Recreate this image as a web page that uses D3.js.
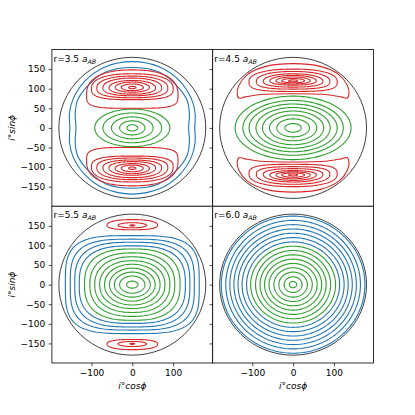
<!DOCTYPE html>
<html><head><meta charset="utf-8">
<script src="https://cdn.jsdelivr.net/npm/d3@7"></script>
<style>body{margin:0;background:#fff}svg{display:block;font-family:"DejaVu Sans",sans-serif}</style>
</head><body>
<script>
// panel values of r (in a_AB)
const radii = ["3.5", "4.5", "5.5", "6.0"];
const xTicks = [-100, 0, 100];
const yTicks = [-150, -100, -50, 0, 50, 100, 150];
const rimRadius = 180;

// centred loops: [halfWidth, halfHeight, power]
// island loops (upper one, mirrored below): [halfWidth, yMid, upHeight, downHeight, upPower, downPower]
// traced loops: points of one quarter (centred) or one half (islands)
const green35 = [[92,48,2],[72,38,2],[51,28,2],[31,18,2],[13,8,2]];
const blue35 = [
	[[0,169],[68,155],[114,122],[145,74],[154,36],[153,0]],
	[[0,154],[64,143],[104,113],[134,71],[140,35],[138,0]]
];
const red35 = [[112,85,63,35,2.4,4],[100,100,38,28,2.4,3],[87,101,31,24,2.3,2.6],[72,102,25,20,2.2,2.4],
	[57,102,19,16,2.1,2.2],[42,103,14,12,2,2],[27,103,9,8,2,2],[9,103,3,3,2,2]];

const green45 = [[142,81,2],[123,70,2],[108,61,2],[91,52,2],[75,43,2],[58,33,2],[40,23,2],[20,11,2]];
const red45Outer = [[0,164],[67,157],[112,136],[133,108],[137,88],[133,76],[118,79],[80,85],[0,87]];
const red45 = [[108,118,32,25,2.3,3.2],[90,119,25,20,2.2,2.8],[73,119,19,15,2.1,2.4],[57,120,14,11,2,2.2],
	[42,120,10,8,2,2],[28,120,6,5,2,2],[11,120,2.5,2.5,2,2]];

const green55 = [[117,91,2.6],[104,81,2.4],[92,71,2.3],[80,61,2.2],[68,52,2.1],[56,42,2],[44,32,2],[31,22,2],[14,9,2]];
const blue55 = [[164,125,3.6],[152,116,3.3],[141,108,3.0],[130,99,2.8]];
const red55 = [[62,152,14,12,2.2,2.5],[35,151,7,6,2,2],[6,151,1.5,1.5,2,2]];

const green60 = [[104,98,2],[92,87,2],[81,76,2],[70,65,2],[59,54,2],[47,43,2],[35,32,2],[22,20,2],[9,8,2]];
const blue60 = [[176,175,2],[165,164,2],[155,153,2],[145,142,2],[135,131,2],[125,120,2],[114,109,2]];

const colors = {green: "#2ca02c", blue: "#1f77b4", red: "#d62728"};

const panels = [
	{r: radii[0], col: 0, row: 0, green: green35, bluePts: blue35, blue: [], red: red35, redPts: []},
	{r: radii[1], col: 1, row: 0, green: green45, bluePts: [], blue: [], red: red45, redPts: [red45Outer]},
	{r: radii[2], col: 0, row: 1, green: green55, bluePts: [], blue: blue55, red: red55, redPts: []},
	{r: radii[3], col: 1, row: 1, green: green60, bluePts: [], blue: blue60, red: [], redPts: []}
];

const padLeft = 51.9, pw = 160.8, padTop = 49.5, ph = 156.75;

function loopPoints(a, ym, ht, hb, nt, nb) {
	return d3.range(0, 360, 2).map(deg => {
		let t = deg * Math.PI / 180, c = Math.cos(t), s = Math.sin(t);
		let up = s >= 0, e = 2 / (up ? nt : nb);
		return [a * Math.sign(c) * Math.abs(c) ** e, ym + (up ? ht : hb) * Math.sign(s) * Math.abs(s) ** e];
	});
}
function fromQuarter(q) {
	let k = q.length - 1;
	return q
		.concat(q.slice(0, k).reverse().map(([x, y]) => [x, -y]))
		.concat(q.slice(1).map(([x, y]) => [-x, -y]))
		.concat(q.slice(1, k).reverse().map(([x, y]) => [-x, y]));
}
function fromHalf(h) {
	return h.concat(h.slice(1, -1).reverse().map(([x, y]) => [-x, y]));
}

var svg = d3.select("body").append("svg")
	.attr("width", 415)
	.attr("height", 415);

panels.forEach(p => {
	let x0 = padLeft + p.col * pw, y0 = padTop + p.row * ph;
	let x = d3.scaleLinear().domain([-197, 197]).range([x0, x0 + pw]);
	let y = d3.scaleLinear().domain([-200, 200]).range([y0 + ph, y0]);
	let g = svg.append("g");

	g.append("rect").attr("x", x0).attr("y", y0).attr("width", pw).attr("height", ph).attr("fill", "#fff");

	let smooth = d3.line().x(d => x(d[0])).y(d => y(d[1])).curve(d3.curveCatmullRomClosed);
	let plain = d3.line().x(d => x(d[0])).y(d => y(d[1])).curve(d3.curveLinearClosed);
	let draw = (pts, col, line) => g.append("path").attr("d", line(pts))
		.attr("fill", "none").attr("stroke", col).attr("stroke-width", 1.1);

	p.bluePts.forEach(q => draw(fromQuarter(q), colors.blue, smooth));
	p.blue.forEach(([a, b, n]) => draw(loopPoints(a, 0, b, b, n, n), colors.blue, plain));
	p.green.forEach(([a, b, n]) => draw(loopPoints(a, 0, b, b, n, n), colors.green, plain));
	[1, -1].forEach(sgn => {
		p.redPts.forEach(h => draw(fromHalf(h).map(([u, v]) => [u, sgn * v]), colors.red, smooth));
		p.red.forEach(d => draw(loopPoints(...d).map(([u, v]) => [u, sgn * v]), colors.red, plain));
	});

	// rim of the plane
	g.append("ellipse")
		.attr("cx", x(0)).attr("cy", y(0))
		.attr("rx", x(rimRadius) - x(0)).attr("ry", y(0) - y(rimRadius))
		.attr("fill", "none").attr("stroke", "#111").attr("stroke-width", 0.8);

	let ay = g.append("g").attr("transform", "translate(" + x0 + ",0)")
		.call(d3.axisLeft(y).tickValues(yTicks).tickSize(3.2).tickPadding(3.5)
			.tickFormat(p.col == 0 ? d3.format("d") : () => ""));
	let ax = g.append("g").attr("transform", "translate(0," + (y0 + ph) + ")")
		.call(d3.axisBottom(x).tickValues(xTicks).tickSize(3.2).tickPadding(3.5)
			.tickFormat(p.row == 1 ? d3.format("d") : () => ""));
	[ax, ay].forEach(a => {
		a.select(".domain").remove();
		a.attr("font-size", 9).attr("font-family", "DejaVu Sans");
		a.selectAll("line").attr("stroke", "#000").attr("stroke-width", 0.7);
		a.selectAll("text").attr("fill", "#000");
	});

	g.append("rect").attr("x", x0).attr("y", y0).attr("width", pw).attr("height", ph)
		.attr("fill", "none").attr("stroke", "#000").attr("stroke-width", 0.8);

	let lab = g.append("text").attr("x", x0 + 1.6).attr("y", y0 + 12.2).attr("font-size", 9);
	lab.append("tspan").text("r=" + p.r + " ");
	lab.append("tspan").attr("font-style", "italic").text("a");
	lab.append("tspan").attr("font-style", "italic").attr("font-size", 6.3).attr("dy", 1.8).text("AB");

	if (p.col == 0) {
		svg.append("text")
			.attr("transform", "translate(15," + (y0 + ph / 2) + ") rotate(-90)")
			.attr("text-anchor", "middle").attr("font-size", 9).attr("font-style", "italic")
			.text("i°sinϕ");
	}
	if (p.row == 1) {
		svg.append("text")
			.attr("x", x0 + pw / 2).attr("y", 389)
			.attr("text-anchor", "middle").attr("font-size", 9).attr("font-style", "italic")
			.text("i°cosϕ");
	}
});
</script>
</body></html>
